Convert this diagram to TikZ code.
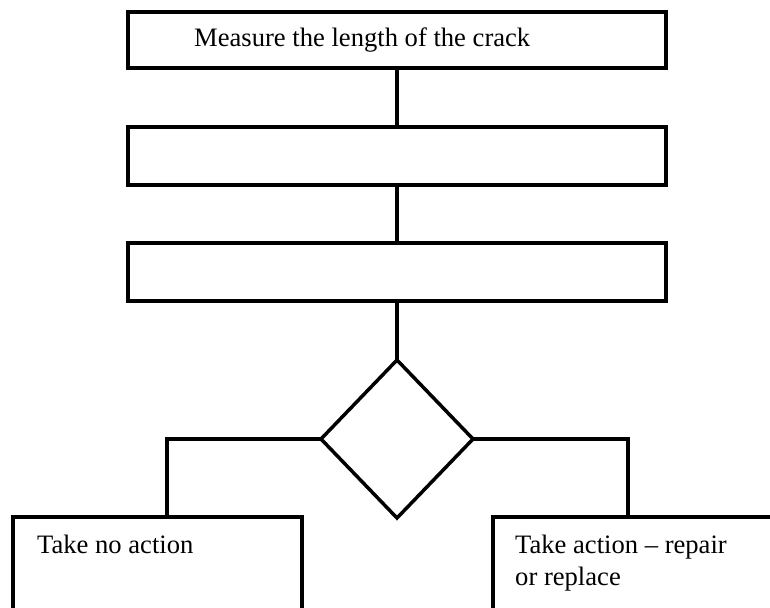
\documentclass[tikz,border=0pt]{standalone}
\usepackage{fontspec}
\setmainfont{Liberation Serif}
\usetikzlibrary{shapes.geometric}
\tikzstyle{stage}=[draw, line width=3.5pt, minimum width=538pt, inner sep=0pt, outer sep=0pt]
\tikzstyle{decide}=[draw, diamond, line width=3.5pt, minimum width=152pt, minimum height=158pt, inner sep=0pt, outer sep=0pt]
\tikzstyle{outcome}=[draw, line width=3.5pt, anchor=north west, inner sep=0pt, outer sep=0pt]
\tikzstyle{link}=[draw, line width=3.5pt]
\tikzstyle{caption}=[inner sep=0pt, font=\fontsize{26.6}{32}\selectfont, align=left]

\begin{document}
\begin{tikzpicture}[x=1pt, y=-1pt]
  \useasboundingbox (0,0) rectangle (770,607);
  \clip (0,0) rectangle (770,607);

  % steps
  \node (measure) [stage, minimum height=56pt] at (397,40) {};
  \node (measuretext) [caption, anchor=base west] at (194,47) {Measure the length of the crack};
  \node (stepb) [stage, minimum height=58pt] at (397,156) {};
  \node (stepc) [stage, minimum height=58pt] at (397,272) {};

  % decision
  \node (choice) [decide] at (397,439) {};

  % outcomes
  \node (noaction) [outcome, minimum width=289pt, minimum height=130pt] at (13,517) {};
  \node (noactiontext) [caption, anchor=base west] at (37,553) {Take no action};
  \node (action) [outcome, minimum width=300pt, minimum height=130pt] at (493,517) {};
  \node (actiontext) [caption, anchor=north west] at (515,535) {Take action -- repair\\or replace};

  % connections
  \draw [link] (measure) -- (stepb);
  \draw [link] (stepb) -- (stepc);
  \draw [link] (stepc) -- (choice);
  \draw [link] (choice.west) -| ([xshift=9.5pt]noaction.north);
  \draw [link] (choice.east) -| ([xshift=-15pt]action.north);
\end{tikzpicture}
\end{document}
